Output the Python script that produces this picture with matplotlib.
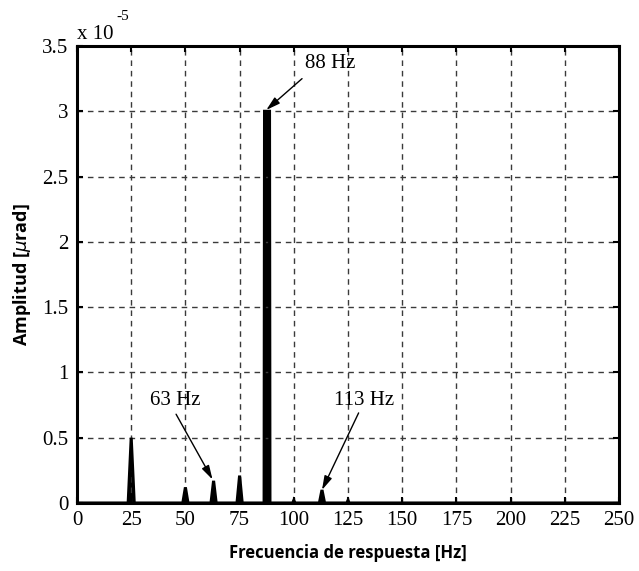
import matplotlib
matplotlib.use("Agg")
import matplotlib.pyplot as plt

# Response spectrum (amplitude in units of 1e-5 µrad)
freq_hz = [0, 23.6, 25, 26.4, 48.8, 50, 51.2, 61.8, 63, 64.2, 73.8, 75, 76.2,
           86.3, 86.5, 88.8, 89.0, 99.5, 100, 100.5, 111.8, 113, 114.2,
           124.5, 125, 125.5, 250]
amplitude = [0, 0, 0.50, 0, 0, 0.12, 0, 0, 0.17, 0, 0, 0.21, 0,
             0, 3.00, 3.00, 0, 0, 0.02, 0, 0, 0.10, 0,
             0, 0.02, 0, 0]

x_ticks = [0, 25, 50, 75, 100, 125, 150, 175, 200, 225, 250]
y_ticks = [0, 0.5, 1, 1.5, 2, 2.5, 3, 3.5]
y_tick_labels = ["0", "0.5", "1", "1.5", "2", "2.5", "3", "3.5"]

# Annotated peaks: label, arrow head (x, y), arrow tail (x, y), text position (x, y)
peak_labels = ["88 Hz", "63 Hz", "113 Hz"]
head_xy = [(87.3, 3.01), (62.5, 0.18), (113.0, 0.10)]
tail_xy = [(103.8, 3.25), (45.7, 0.68), (129.9, 0.69)]
text_xy = [(117, 3.29), (45.5, 0.71), (132.5, 0.71)]

serif = "Liberation Serif"

fig = plt.figure(figsize=(6.39, 5.71), dpi=100)
ax = fig.add_axes([77 / 639, 1 - 503 / 571, 542 / 639, 457 / 571])

ax.fill(freq_hz, amplitude, color="black", lw=0)
ax.plot(freq_hz, amplitude, color="black", lw=2.2, solid_joinstyle="miter")

ax.set_xlim(0, 250)
ax.set_ylim(0, 3.5)
ax.set_xticks(x_ticks)
ax.set_xticklabels([str(t) for t in x_ticks], fontfamily=serif, fontsize=15)
ax.set_yticks(y_ticks)
ax.set_yticklabels(y_tick_labels, fontfamily=serif, fontsize=15)

ax.grid(True, color="#3a3a3a", linestyle=(0, (4, 3.5)), linewidth=1.0)
ax.tick_params(direction="in", length=4, width=1.5, top=True, right=True,
               pad=6, colors="black")
for s in ax.spines.values():
    s.set_linewidth(2.2)

# Axis multiplier
ax.text(0.0, 1.005, "x 10", transform=ax.transAxes,
        fontfamily=serif, fontsize=15, ha="left", va="bottom")
ax.text(0.072, 1.05, "-5", transform=ax.transAxes,
        fontfamily=serif, fontsize=11, ha="left", va="bottom")

for lab, hxy, txy, lxy in zip(peak_labels, head_xy, tail_xy, text_xy):
    ax.text(lxy[0], lxy[1], lab, fontfamily=serif, fontsize=15,
            ha="center", va="bottom")
    ax.annotate("", xy=hxy, xytext=txy,
                arrowprops=dict(arrowstyle="-|>,head_length=0.6,head_width=0.17",
                                color="black", lw=1.0, shrinkA=0, shrinkB=0,
                                mutation_scale=14))

ax.set_xlabel("Frecuencia de respuesta [Hz]", fontfamily="Open Sans",
              fontweight="bold", fontsize=12, labelpad=10)
ax.set_ylabel("Amplitud [$\\mu$rad]", fontfamily="Open Sans",
              fontweight="bold", fontsize=13, labelpad=7)

fig.savefig("out.png", dpi=100)
